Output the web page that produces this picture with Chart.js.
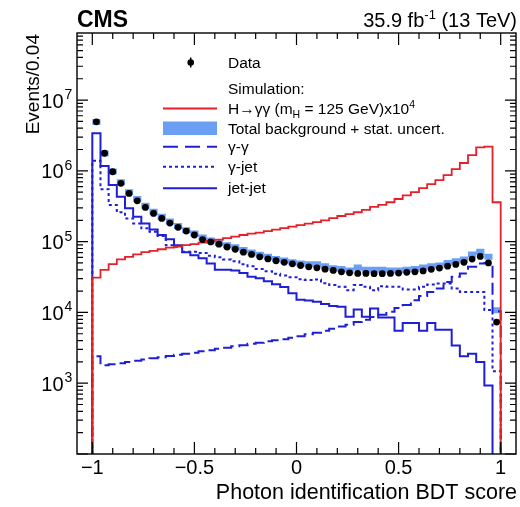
<!DOCTYPE html>
<html>
<head>
<meta charset="utf-8">
<title>Photon identification BDT score</title>
<script src="https://cdn.jsdelivr.net/npm/chart.js@4.4.1/dist/chart.umd.min.js"></script>
<style>
  body { margin: 0; background: #fff; }
  canvas { display: block; }
</style>
</head>
<body>
<canvas id="bdtChart" width="520" height="507"></canvas>
<script>
// binning: 50 bins of width 0.04 from -1 to 1
const binLow = -1;
const binWidth = 0.04;
const nBins = 50;

// events per bin
const dataEvents = [4.93e6, 1.77e6, 9.7e5, 6.65e5, 4.8e5, 3.77e5, 3.04e5, 2.5e5, 2.13e5, 1.83e5,
  1.59e5, 1.41e5, 1.24e5, 1.07e5, 9.9e4, 9.2e4, 8.4e4, 7.8e4, 7.1e4, 6.6e4,
  6.1e4, 5.7e4, 5.37e4, 5.1e4, 4.86e4, 4.6e4, 4.4e4, 4.27e4, 4.08e4, 3.92e4,
  3.74e4, 3.63e4, 3.56e4, 3.56e4, 3.52e4, 3.52e4, 3.56e4, 3.6e4, 3.68e4, 3.74e4,
  3.86e4, 4.06e4, 4.23e4, 4.5e4, 4.77e4, 5.1e4, 5.66e4, 6.17e4, 5.0e4, 7.3e3];

const higgsX1e4 = [3.1e4, 4.0e4, 4.8e4, 5.6e4, 6.1e4, 6.6e4, 7.1e4, 7.4e4, 7.8e4, 8.2e4,
  8.5e4, 8.9e4, 9.2e4, 9.7e4, 1.02e5, 1.07e5, 1.12e5, 1.18e5, 1.24e5, 1.3e5,
  1.34e5, 1.41e5, 1.48e5, 1.55e5, 1.63e5, 1.71e5, 1.8e5, 1.89e5, 2.0e5, 2.15e5,
  2.3e5, 2.45e5, 2.6e5, 2.8e5, 3.1e5, 3.3e5, 3.6e5, 4.0e5, 4.5e5, 5.0e5,
  5.7e5, 6.5e5, 7.4e5, 8.7e5, 1.06e6, 1.29e6, 1.67e6, 2.15e6, 2.2e6, 3.6e5];

const totalBkg = [4.9e6, 1.75e6, 9.8e5, 6.9e5, 5.0e5, 4.0e5, 3.2e5, 2.65e5, 2.25e5, 1.92e5,
  1.66e5, 1.45e5, 1.3e5, 1.14e5, 1.04e5, 9.6e4, 8.9e4, 8.3e4, 7.6e4, 7.0e4,
  6.5e4, 6.1e4, 5.7e4, 5.4e4, 5.1e4, 4.9e4, 4.8e4, 4.8e4, 4.5e4, 4.2e4,
  4.1e4, 3.9e4, 4.3e4, 4.0e4, 4.0e4, 4.0e4, 3.9e4, 3.9e4, 4.0e4, 4.1e4,
  4.3e4, 4.5e4, 4.6e4, 5.0e4, 5.3e4, 5.6e4, 6.6e4, 7.2e4, 6.1e4, 1.07e4];

const gammaGamma = [2.41e3, 1.8e3, 1.86e3, 1.92e3, 2.0e3, 2.07e3, 2.16e3, 2.26e3, 2.33e3, 2.43e3,
  2.53e3, 2.61e3, 2.7e3, 2.83e3, 2.93e3, 3.07e3, 3.17e3, 3.33e3, 3.45e3, 3.62e3,
  3.74e3, 3.92e3, 4.05e3, 4.19e3, 4.4e3, 4.62e3, 4.93e3, 5.18e3, 5.52e3, 5.9e3,
  6.3e3, 6.7e3, 7.3e3, 7.9e3, 8.6e3, 9.3e3, 1.02e4, 1.15e4, 1.27e4, 1.49e4,
  1.7e4, 1.95e4, 2.18e4, 2.7e4, 3.18e4, 3.55e4, 4.4e4, 4.9e4, 5.0e4, 1.04e4];

const gammaJet = [1.39e6, 5.5e5, 3.3e5, 2.6e5, 2.13e5, 1.8e5, 1.54e5, 1.38e5, 1.2e5, 8.9e4,
  8.45e4, 7.2e4, 7.2e4, 6.9e4, 6.3e4, 6.0e4, 5.6e4, 5.3e4, 4.8e4, 4.5e4,
  4.1e4, 3.83e4, 3.53e4, 3.31e4, 3.15e4, 2.95e4, 2.86e4, 2.92e4, 2.59e4, 2.43e4,
  2.3e4, 2.06e4, 2.43e4, 2.3e4, 2.06e4, 2.35e4, 2.3e4, 2.3e4, 2.11e4, 2.11e4,
  2.3e4, 2.48e4, 2.57e4, 2.57e4, 2.18e4, 1.95e4, 1.95e4, 1.95e4, 1.08e4, 1.48e3];

// last bin is empty (below the axis)
const jetJet = [3.4e6, 1.17e6, 6.3e5, 4.3e5, 2.95e5, 2.25e5, 1.8e5, 1.48e5, 1.24e5, 1.08e5,
  8.9e4, 7.1e4, 6.4e4, 5.8e4, 4.9e4, 4.0e4, 4.0e4, 3.9e4, 3.6e4, 3.2e4,
  3.05e4, 2.76e4, 2.5e4, 2.28e4, 1.87e4, 1.51e4, 1.47e4, 1.42e4, 1.31e4, 1.23e4,
  1.2e4, 8.7e3, 1.1e4, 8.7e3, 1.14e4, 8.5e3, 8.5e3, 5.5e3, 7.1e3, 7.1e3,
  5.5e3, 7.1e3, 5.7e3, 5.7e3, 3.4e3, 2.4e3, 2.6e3, 2.0e3, 9.3e2, 50];

const xTickLabels = ['\u22121', '\u22120.5', '0', '0.5', '1'];
const xTickValues = [-1, -0.5, 0, 0.5, 1];
const yDecades = [3, 4, 5, 6, 7];

const yMin = 100;
const yMax = 8.85e7;

const FONT = '"Liberation Sans", Arial, Helvetica, sans-serif';
const BLUE = '#1f1fd6';
const RED = '#e5202a';
const BAND = '#6b9ff3';

const edges = [];
for (let i = 0; i <= nBins; i++) edges.push(binLow + i * binWidth);

// outline of a histogram, closed down to the axis at both ends
function histPoints(vals) {
  const pts = [{ x: edges[0], y: yMin }];
  vals.forEach((v, i) => pts.push({ x: edges[i], y: v }));
  pts.push({ x: edges[nBins], y: vals[nBins - 1] });
  pts.push({ x: edges[nBins], y: yMin });
  return pts;
}

// one separate horizontal bar per bin (uncertainty band style)
function bandPoints(vals) {
  const pts = [];
  vals.forEach((v, i) => {
    pts.push({ x: edges[i], y: v });
    pts.push({ x: edges[i + 1], y: v });
    pts.push({ x: edges[i + 1], y: null });
  });
  return pts;
}

function histDataset(vals, color, width, dash, order) {
  return {
    data: histPoints(vals),
    showLine: true,
    stepped: 'before',
    borderColor: color,
    borderWidth: width,
    borderDash: dash,
    pointRadius: 0,
    fill: false,
    order: order
  };
}

const dataPoints = dataEvents.map((v, i) => ({ x: edges[i] + binWidth / 2, y: v }));

function drawText(ctx, parts, x, y) {
  // parts: [text, fontSize, dy]
  let cx = x;
  parts.forEach(p => {
    ctx.font = p[1] + 'px ' + FONT;
    ctx.fillText(p[0], cx, y + p[2]);
    cx += ctx.measureText(p[0]).width;
  });
  return cx;
}

function partsWidth(ctx, parts) {
  let w = 0;
  parts.forEach(p => {
    ctx.font = p[1] + 'px ' + FONT;
    w += ctx.measureText(p[0]).width;
  });
  return w;
}

const whiteBg = {
  id: 'whiteBg',
  beforeDraw(chart) {
    const ctx = chart.ctx;
    ctx.save();
    ctx.fillStyle = '#fff';
    ctx.fillRect(0, 0, chart.width, chart.height);
    ctx.restore();
  }
};

// frame, ROOT-style inner ticks, labels and legend
const rootFrame = {
  id: 'rootFrame',
  afterDraw(chart) {
    const ctx = chart.ctx;
    const a = chart.chartArea;
    const xs = chart.scales.x;
    const ys = chart.scales.y;
    ctx.save();
    ctx.strokeStyle = '#000';
    ctx.fillStyle = '#000';

    ctx.lineWidth = 1.4;
    ctx.strokeRect(a.left, a.top, a.right - a.left, a.bottom - a.top);

    ctx.lineWidth = 1.2;
    ctx.beginPath();
    for (let k = -10; k <= 10; k++) {
      const px = xs.getPixelForValue(k / 10);
      const len = k % 5 === 0 ? 12 : 6;
      ctx.moveTo(px, a.bottom); ctx.lineTo(px, a.bottom - len);
      ctx.moveTo(px, a.top); ctx.lineTo(px, a.top + len);
    }
    for (let e = 2; e <= 7; e++) {
      for (let m = 1; m <= 9; m++) {
        const v = m * Math.pow(10, e);
        if (v > ys.max) break;
        const py = ys.getPixelForValue(v);
        const len = m === 1 ? 11 : 6;
        ctx.moveTo(a.left, py); ctx.lineTo(a.left + len, py);
        ctx.moveTo(a.right, py); ctx.lineTo(a.right - len, py);
      }
    }
    ctx.stroke();

    // x tick labels
    ctx.font = '20px ' + FONT;
    ctx.textAlign = 'center';
    ctx.textBaseline = 'alphabetic';
    xTickValues.forEach((v, i) => {
      ctx.fillText(xTickLabels[i], xs.getPixelForValue(v), 474);
    });

    // y tick labels 10^n
    yDecades.forEach(e => {
      const py = ys.getPixelForValue(Math.pow(10, e));
      ctx.textAlign = 'right';
      ctx.font = '20px ' + FONT;
      ctx.fillText('10', 63.5, py + 7.5);
      ctx.textAlign = 'left';
      ctx.font = '14px ' + FONT;
      ctx.fillText(String(e), 64.5, py - 1);
    });

    // axis titles
    ctx.textAlign = 'right';
    ctx.font = '21.5px ' + FONT;
    ctx.fillText('Photon identification BDT score', 517, 499);
    ctx.save();
    ctx.translate(39, a.top + 1);
    ctx.rotate(-Math.PI / 2);
    ctx.font = '19px ' + FONT;
    ctx.fillText('Events/0.04', 0, 0);
    ctx.restore();

    // header
    ctx.textAlign = 'left';
    ctx.font = 'bold 23px ' + FONT;
    ctx.fillText('CMS', 77, 27);
    const lumi = [['35.9 fb', 20, 0], ['-1', 13, -8], [' (13 TeV)', 20, 0]];
    drawText(ctx, lumi, 517 - partsWidth(ctx, lumi), 27);

    // legend
    const symL = 163, symR = 217, txtX = 228;
    ctx.font = '15.5px ' + FONT;
    ctx.beginPath();
    ctx.arc(190.7, 62.5, 3.3, 0, Math.PI * 2);
    ctx.fill();
    ctx.lineWidth = 1.5;
    ctx.beginPath();
    ctx.moveTo(190.7, 57.5); ctx.lineTo(190.7, 67.5);
    ctx.stroke();
    ctx.fillText('Data', txtX, 68);
    ctx.fillText('Simulation:', txtX, 93.5);

    ctx.strokeStyle = RED;
    ctx.lineWidth = 2;
    ctx.beginPath(); ctx.moveTo(symL, 108.5); ctx.lineTo(symR, 108.5); ctx.stroke();
    drawText(ctx, [['H\u2192\u03b3\u03b3 (m', 15.5, 0], ['H', 10.5, 4], [' = 125 GeV)x10', 15.5, 0], ['4', 10.5, -6]], txtX, 114);

    ctx.fillStyle = BAND;
    ctx.fillRect(symL, 121.5, symR - symL, 13.5);
    ctx.fillStyle = '#000';
    ctx.font = '15.5px ' + FONT;
    ctx.fillText('Total background + stat. uncert.', txtX, 134);

    ctx.strokeStyle = BLUE;
    ctx.lineWidth = 2;
    ctx.setLineDash([15, 7]);
    ctx.beginPath(); ctx.moveTo(symL, 146.7); ctx.lineTo(symR, 146.7); ctx.stroke();
    ctx.setLineDash([3, 3]);
    ctx.beginPath(); ctx.moveTo(symL, 166.7); ctx.lineTo(symR, 166.7); ctx.stroke();
    ctx.setLineDash([]);
    ctx.beginPath(); ctx.moveTo(symL, 188.3); ctx.lineTo(symR, 188.3); ctx.stroke();
    ctx.fillText('\u03b3-\u03b3', txtX, 151.5);
    ctx.fillText('\u03b3-jet', txtX, 171.5);
    ctx.fillText('jet-jet', txtX, 193);

    ctx.restore();
  }
};

const ctx = document.getElementById('bdtChart').getContext('2d');
const bdtChart = new Chart(ctx, {
  type: 'scatter',
  data: {
    datasets: [
      {
        label: 'Data',
        data: dataPoints,
        showLine: false,
        pointRadius: 3.4,
        pointBackgroundColor: '#000',
        pointBorderWidth: 0,
        order: 0
      },
      Object.assign(histDataset(higgsX1e4, RED, 1.8, [], 1), { label: 'H' }),
      Object.assign(histDataset(jetJet, BLUE, 2, [], 2), { label: 'jet-jet' }),
      Object.assign(histDataset(gammaJet, BLUE, 2, [3, 3], 3), { label: 'gamma-jet' }),
      Object.assign(histDataset(gammaGamma, BLUE, 2, [12, 5], 4), { label: 'gamma-gamma' }),
      {
        label: 'Total background',
        data: bandPoints(totalBkg),
        showLine: true,
        spanGaps: false,
        borderColor: BAND,
        borderWidth: 6,
        borderCapStyle: 'butt',
        pointRadius: 0,
        fill: false,
        order: 5
      }
    ]
  },
  options: {
    responsive: false,
    animation: false,
    devicePixelRatio: 1,
    layout: { padding: { left: 77, right: 2, top: 33, bottom: 53 } },
    scales: {
      x: { type: 'linear', min: -1.075, max: 1.075, display: false },
      y: { type: 'logarithmic', min: yMin, max: yMax, display: false }
    },
    plugins: {
      legend: { display: false },
      tooltip: { enabled: false }
    }
  },
  plugins: [whiteBg, rootFrame]
});
</script>
</body>
</html>
